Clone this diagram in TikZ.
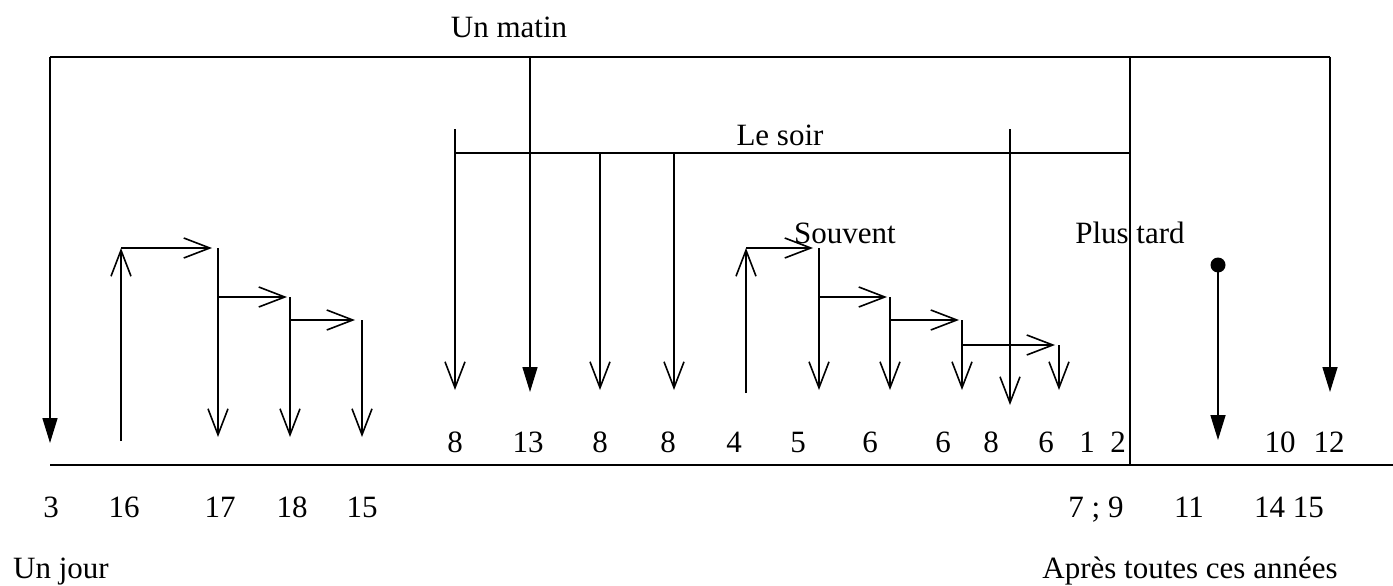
\documentclass[tikz,border=0pt]{standalone}
\usepackage{fontspec}
\setmainfont{Liberation Serif}
\usetikzlibrary{arrows.meta}

\tikzset{
  lbl/.style={font=\fontsize{31}{36}\selectfont, inner sep=0pt, anchor=base},
  ln/.style={line width=1.6pt},
  axis/.style={line width=2.4pt},
  open/.style={ln, -{Straight Barb[length=26pt,width=20pt]}},
  full/.style={ln, -{Triangle[length=25pt,width=15pt]}},
}

\begin{document}
\begin{tikzpicture}[x=1pt,y=-1pt]
\useasboundingbox (0,0) rectangle (1393,586);

% time axis and outer frame
\coordinate (ax0) at (50,465);
\coordinate (ax1) at (1393,465);
\coordinate (tl) at (50,57);
\coordinate (tm) at (530,57);
\coordinate (ts) at (1130,57);
\coordinate (tr) at (1330,57);
\coordinate (axs) at (1130,465);
\draw[axis] (ax0) -- (ax1);
\draw[axis] (tl) -- (tr);
\draw[ln] (ts) -- (axs);

\coordinate (jour) at (50,443);
\coordinate (matin) at (530,392);
\coordinate (fin) at (1330,392);
\draw[full] (tl) -- (jour);
\draw[full] (tm) -- (matin);
\draw[full] (tr) -- (fin);

% evening bracket
\coordinate (s0) at (455,129);
\coordinate (s1) at (455,153);
\coordinate (s2) at (1130,153);
\coordinate (s3) at (1010,129);
\coordinate (s4) at (1010,405);
\draw[axis] (s1) -- (s2);
\draw[open] (s0) -- (455,390);
\draw[open] (s3) -- (s4);
\foreach \x in {600,674} {
  \coordinate (e\x) at (\x,153);
  \draw[open] (e\x) -- (\x,390);
}

% first staircase
\coordinate (u0) at (121,441);
\coordinate (u1) at (121,248);
\draw[open] (u0) -- (u1);
\foreach \a/\b/\y in {121/212/248, 218/287/297, 290/355/320}
  \draw[open] (\a,\y) -- (\b,\y);
\foreach \x/\y in {218/248, 290/297, 362/320}
  \draw[open] (\x,\y) -- (\x,437);

% second staircase
\coordinate (v0) at (746,393);
\coordinate (v1) at (746,248);
\draw[open] (v0) -- (v1);
\foreach \a/\b/\y in {746/813/248, 819/887/297, 890/959/320, 962/1055/345}
  \draw[open] (\a,\y) -- (\b,\y);
\foreach \x/\y in {819/248, 890/297, 962/320, 1059/345}
  \draw[open] (\x,\y) -- (\x,390);

% pin
\node[circle, fill, inner sep=0pt, minimum size=15pt] (pin) at (1218,265) {};
\coordinate (pinend) at (1218,440);
\draw[full] (pin.center) -- (pinend);

% labels
\node[lbl] (lmatin) at (509,38) {Un matin};
\node[lbl] (lsoir) at (780,145) {Le soir};
\node[lbl] (lsouv) at (845,243) {Souvent};
\node[lbl] (ltard) at (1130,243) {Plus tard};
\node[lbl] (ljour) at (61,578) {Un jour};
\node[lbl] (lapres) at (1190,578) {Après toutes ces années};

\foreach \x/\t in {455/8, 528/13, 600/8, 668/8, 734/4, 798/5, 870/6, 943/6,
                   991/8, 1046/6, 1087/1, 1118/2, 1280/10, 1329/12}
  \node[lbl] (a\x) at (\x,452) {\t};
\foreach \x/\t in {51/3, 124/16, 220/17, 292/18, 362/15, 1096/{7 ; 9},
                   1189/11, 1289/{14 15}}
  \node[lbl] (b\x) at (\x,517) {\t};
\end{tikzpicture}
\end{document}
